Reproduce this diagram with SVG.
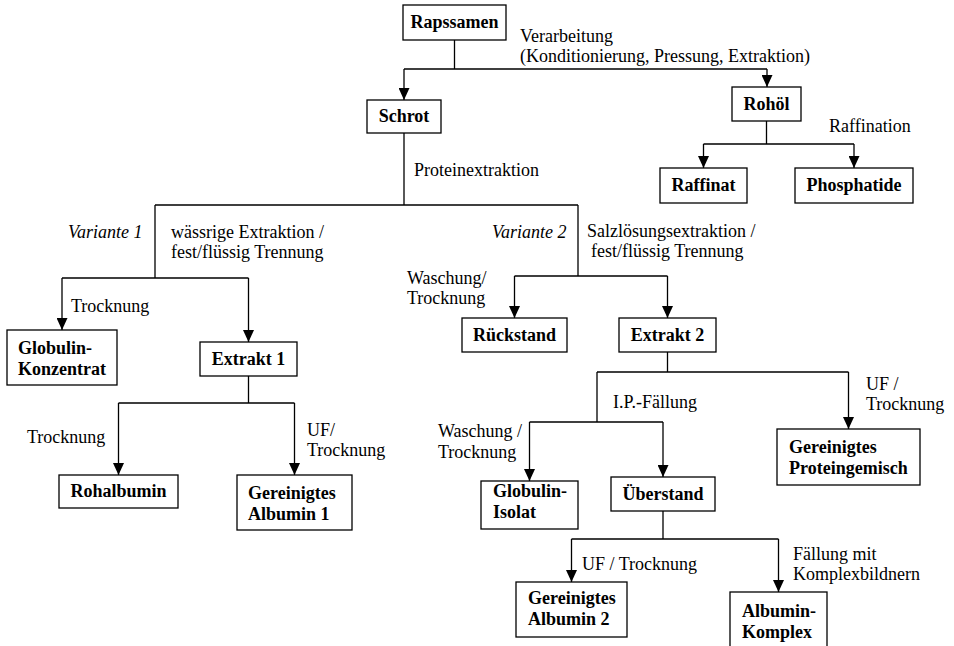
<svg xmlns="http://www.w3.org/2000/svg" width="954" height="646" viewBox="0 0 954 646">
<style>
.box{fill:#fff;stroke:#000;stroke-width:1.3}
text{font-family:'Liberation Serif','Times New Roman',Times,'DejaVu Serif',serif;font-size:18px;fill:#000}
.nt{font-weight:bold}
.c{text-anchor:middle}
.it{font-style:italic}
.ln{fill:none;stroke:#000;stroke-width:1.3}
</style>
<defs>
<marker id="arr" viewBox="0 0 12 11" refX="12" refY="5.5" markerWidth="12" markerHeight="11" markerUnits="userSpaceOnUse" orient="auto">
<path d="M0,0 L12,5.5 L0,11 z" fill="#000"/>
</marker>
</defs>
<rect width="954" height="646" fill="#fff"/>
<g id="connectors">
<path class="ln" d="M454.5,40 V69 M404,69 H767"/>
<path class="ln" marker-end="url(#arr)" d="M404,69 V100"/>
<path class="ln" marker-end="url(#arr)" d="M767,69 V87"/>
<path class="ln" d="M766.5,121 V144 M703.5,144 H854"/>
<path class="ln" marker-end="url(#arr)" d="M703.5,144 V168"/>
<path class="ln" marker-end="url(#arr)" d="M854,144 V168"/>
<path class="ln" d="M404,133 V205 M155,205 H578"/>
<path class="ln" d="M155,205 V278 M62,278 H248.5"/>
<path class="ln" marker-end="url(#arr)" d="M62,278 V330"/>
<path class="ln" marker-end="url(#arr)" d="M248.5,278 V342"/>
<path class="ln" d="M248.5,376 V403 M118.5,403 H294.5"/>
<path class="ln" marker-end="url(#arr)" d="M118.5,403 V475"/>
<path class="ln" marker-end="url(#arr)" d="M294.5,403 V475"/>
<path class="ln" d="M578,205 V276 M514.5,276 H667.5"/>
<path class="ln" marker-end="url(#arr)" d="M514.5,276 V318"/>
<path class="ln" marker-end="url(#arr)" d="M667.5,276 V318"/>
<path class="ln" d="M667.5,352 V372 M597,372 H848.5 M597,372 V422 M529.5,422 H663"/>
<path class="ln" marker-end="url(#arr)" d="M848.5,372 V429"/>
<path class="ln" marker-end="url(#arr)" d="M529.5,422 V481"/>
<path class="ln" marker-end="url(#arr)" d="M663,422 V477"/>
<path class="ln" d="M663,511 V539 M571.5,539 H778.5"/>
<path class="ln" marker-end="url(#arr)" d="M571.5,539 V582"/>
<path class="ln" marker-end="url(#arr)" d="M778.5,539 V592"/>
</g>
<g id="labels" font-family="Liberation Serif, serif">
<text x="520" y="42">Verarbeitung</text>
<text x="520" y="62">(Konditionierung, Pressung, Extraktion)</text>
<text x="829" y="132">Raffination</text>
<text x="414" y="176">Proteinextraktion</text>
<text class="it" x="68" y="238">Variante 1</text>
<text x="171" y="238">wässrige Extraktion /</text>
<text x="171" y="258">fest/flüssig Trennung</text>
<text class="it" x="492" y="238">Variante 2</text>
<text x="587" y="237">Salzlösungsextraktion /</text>
<text x="591" y="257">fest/flüssig Trennung</text>
<text x="407" y="284">Waschung/</text>
<text x="407" y="304">Trocknung</text>
<text x="71" y="312">Trocknung</text>
<text x="27" y="443">Trocknung</text>
<text x="307" y="436">UF/</text>
<text x="307" y="456">Trocknung</text>
<text x="613" y="408">I.P.-Fällung</text>
<text x="866" y="390">UF /</text>
<text x="866" y="410">Trocknung</text>
<text x="438" y="437">Waschung /</text>
<text x="438" y="458">Trocknung</text>
<text x="582" y="570">UF / Trocknung</text>
<text x="793" y="560">Fällung mit</text>
<text x="793" y="580">Komplexbildnern</text>
</g>
<g id="rapssamen"><rect class="box" x="403" y="5" width="103" height="35"/><text class="nt c" x="454.5" y="28">Rapssamen</text></g>
<g id="schrot"><rect class="box" x="367" y="100" width="74" height="33"/><text class="nt c" x="404" y="122">Schrot</text></g>
<g id="rohoel"><rect class="box" x="732" y="87" width="69" height="34"/><text class="nt c" x="766.5" y="110">Rohöl</text></g>
<g id="raffinat"><rect class="box" x="660" y="168" width="87" height="35"/><text class="nt c" x="703.5" y="191">Raffinat</text></g>
<g id="phosphatide"><rect class="box" x="795" y="168" width="118" height="35"/><text class="nt c" x="854" y="191">Phosphatide</text></g>
<g id="globulin-konzentrat"><rect class="box" x="7" y="330" width="110" height="55"/><text class="nt" x="18" y="354">Globulin-</text><text class="nt" x="18" y="375">Konzentrat</text></g>
<g id="extrakt1"><rect class="box" x="200" y="342" width="97" height="34"/><text class="nt c" x="248.5" y="365">Extrakt 1</text></g>
<g id="rueckstand"><rect class="box" x="462" y="318" width="105" height="34"/><text class="nt c" x="514.5" y="341">Rückstand</text></g>
<g id="extrakt2"><rect class="box" x="619" y="318" width="97" height="34"/><text class="nt c" x="667.5" y="341">Extrakt 2</text></g>
<g id="rohalbumin"><rect class="box" x="59" y="475" width="119" height="33"/><text class="nt c" x="118.5" y="497">Rohalbumin</text></g>
<g id="gereinigtes-albumin1"><rect class="box" x="237" y="475" width="115" height="55"/><text class="nt" x="248" y="499">Gereinigtes</text><text class="nt" x="248" y="520">Albumin 1</text></g>
<g id="gereinigtes-proteingemisch"><rect class="box" x="777" y="429" width="143" height="56"/><text class="nt" x="789" y="453">Gereinigtes</text><text class="nt" x="789" y="474">Proteingemisch</text></g>
<g id="globulin-isolat"><rect class="box" x="481" y="481" width="97" height="48"/><text class="nt" x="493" y="497">Globulin-</text><text class="nt" x="493" y="518">Isolat</text></g>
<g id="ueberstand"><rect class="box" x="611" y="477" width="104" height="34"/><text class="nt c" x="663" y="500">Überstand</text></g>
<g id="gereinigtes-albumin2"><rect class="box" x="516" y="582" width="111" height="55"/><text class="nt" x="528" y="604">Gereinigtes</text><text class="nt" x="528" y="625">Albumin 2</text></g>
<g id="albumin-komplex"><rect class="box" x="730" y="592" width="97" height="62"/><text class="nt" x="742" y="617">Albumin-</text><text class="nt" x="742" y="638">Komplex</text></g>
</svg>
